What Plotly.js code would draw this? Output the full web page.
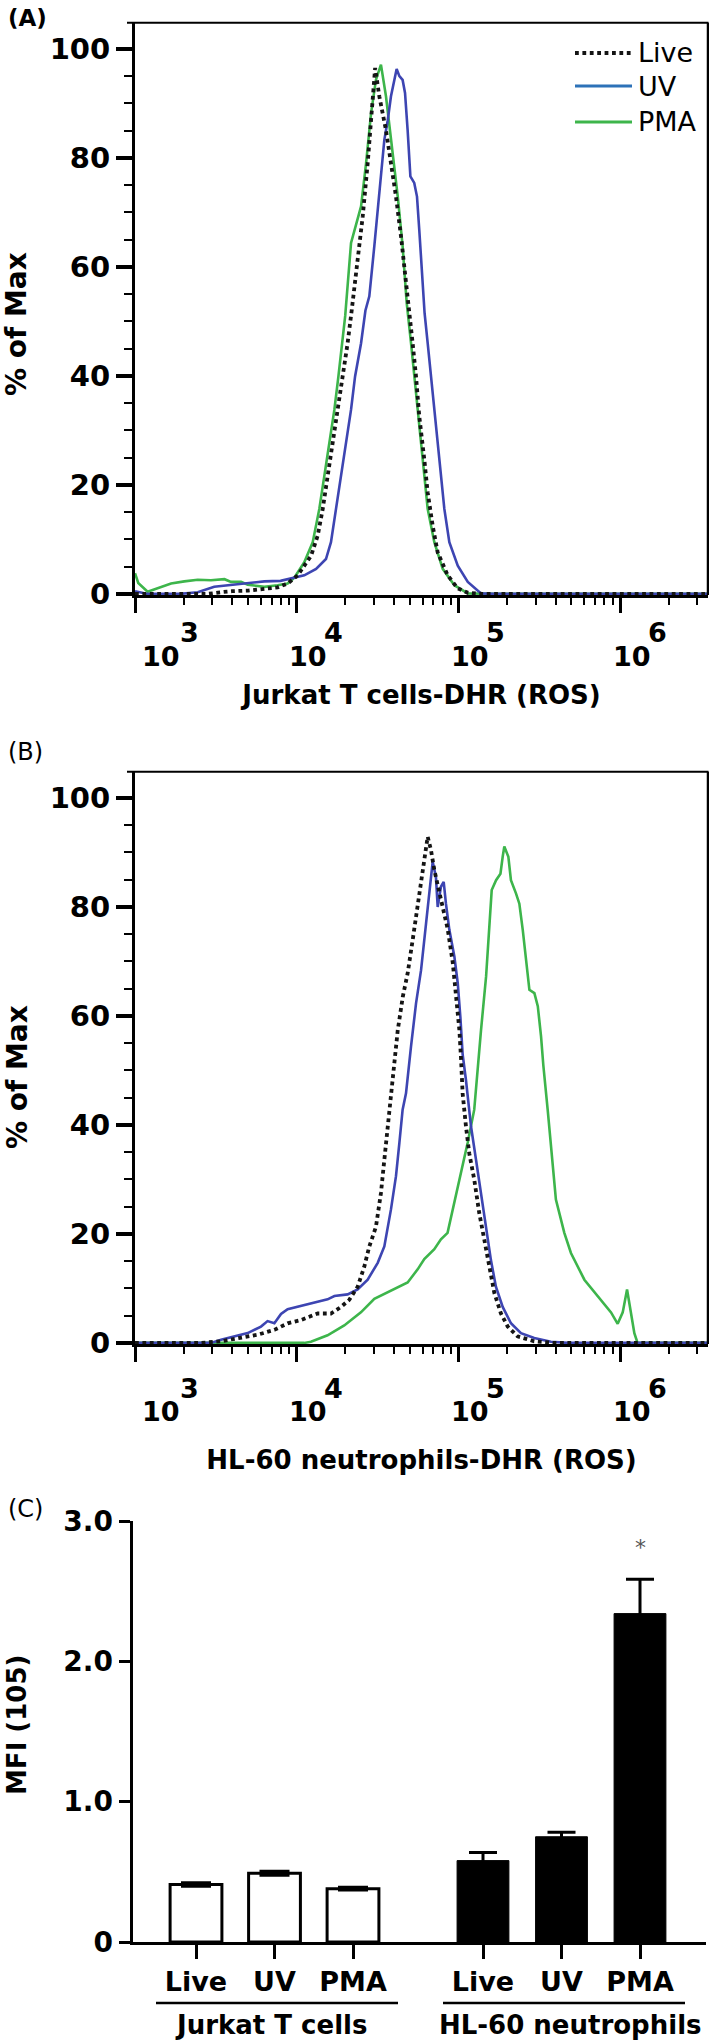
<!DOCTYPE html>
<html><head><meta charset="utf-8">
<script src="https://cdn.plot.ly/plotly-3.0.1.min.js"></script>
<style>html,body{margin:0;padding:0;background:#fff}#chart{width:709px;height:2042px}</style>
</head><body><div id="chart"></div>
<script>
// ---------- Panel A : Jurkat T cells - DHR (ROS) ----------
const aLiveX = [1000,2818,3388,3981,5012,6310,7621,8790,10140,12270,13490,14490,15560,16710,17740,19230,20650,21880,23280,25590,27480,28840,29850,30550,32430,34040,35650,38280,41110,44160,47420,50120,52120,54700,57280,61520,64570,69340,74470,85900,99080,114800,141300,3548000];
const aLiveY = [0,0,0.3,0.5,0.6,0.9,1.2,1.9,3.4,7.0,10.7,15.6,21.7,27.7,33.8,39.9,46.0,52.0,59.0,69.2,79.0,87.0,93.0,96.5,91.3,88.2,85.1,79.0,72.9,65.6,57.6,51.5,46.0,39.9,32.6,24.7,18.6,12.5,7.6,3.4,1.0,0.2,0,0];
const aUVX = [1000,1197,1905,2443,3090,3926,4977,6310,7943,9226,11140,13180,15170,16290,17500,18790,20180,21680,22960,25000,26610,28120,30200,32430,34830,36560,38280,41500,43150,45190,46770,48530,50470,53330,55460,57280,60120,61800,64570,67760,70960,74470,78160,81850,87900,99080,114300,138000,166000,3548000];
const aUVY = [0.5,0,0,0.3,1.3,1.6,1.9,2.3,2.4,2.8,3.4,4.6,6.4,9.5,15.6,21.7,27.7,33.8,39.9,46.0,52.0,54.6,63.8,72.9,83.3,86.9,91.3,96.3,95.0,94.3,91.9,85.1,76.6,75.4,72.9,66.8,57.6,51.5,46.0,39.9,33.8,27.7,21.7,15.6,9.5,5.2,2.2,0.1,0,0];
const aPMAX = [1000,1047,1197,1380,1671,2018,2443,2951,3573,3926,4529,4977,6310,7621,8790,9683,11140,12560,13800,14830,15920,17100,18110,19140,19950,21680,23280,25000,26850,28840,30900,33190,35650,38280,42170,45190,47860,50930,53330,55980,58750,61520,64570,70960,79980,94410,114300,158500,3548000];
const aPMAY = [3.8,2.0,0.4,1.0,1.9,2.3,2.6,2.5,2.7,2.2,2.2,1.7,1.3,1.6,1.9,3.0,5.8,9.5,15.6,21.7,27.7,33.8,39.9,46.0,51.0,64.4,68.0,71.1,79.0,88.2,94.3,97.1,91.3,83.3,72.9,63.8,53.5,46.0,39.9,33.8,27.7,21.7,15.6,9.5,4.6,1.6,0.1,0,0];

// ---------- Panel B : HL-60 neutrophils - DHR (ROS) ----------
const bLiveX = [1000,2559,3404,4519,5728,7278,8790,10620,13490,16290,18790,21130,23820,26180,28120,30900,33190,34830,36480,38280,40180,42170,45290,48530,52120,55980,61520,64570,67610,70960,77980,85900,92260,96610,101400,103800,106200,111400,116700,125300,134600,144500,155200,166700,183200,201800,232300,294400,391700,3548000];
const bLiveY = [0,0,0.3,0.9,1.5,2.4,3.6,4.2,5.4,5.4,6.6,7.9,10.3,14.0,17.7,21.3,27.5,33.6,39.7,45.8,51.3,57.4,63.5,67.8,73.9,80.0,89.2,92.9,90.5,86.8,81.4,75.9,69.8,63.5,57.4,52.2,45.8,39.7,34.8,30.0,23.8,19.0,14.0,9.2,5.4,3.0,1.2,0.3,0,0];
const bUVX = [1000,2951,3404,4111,4977,6012,6607,7278,7998,8790,10620,12850,15520,17100,20650,23820,27480,31700,34830,38280,41110,43150,45190,47420,49200,50930,54700,58750,63100,66070,69340,72610,74470,77980,81100,83750,87900,94410,99080,102800,106200,111400,119700,128500,138000,148300,158900,170600,187900,211300,243800,294400,373300,474300,3548000];
const bUVY = [0,0,0.6,1.2,1.8,3.0,4.0,3.6,5.3,6.2,6.8,7.4,8.0,8.6,8.9,9.8,11.6,14.7,17.7,24.5,30.6,36.7,42.8,45.8,51.0,54.4,62.3,68.4,77.0,83.1,88.3,85.5,80.0,83.7,84.6,80.6,75.8,70.9,66.0,59.9,53.0,48.2,39.7,33.6,27.5,21.3,15.2,10.3,6.6,3.6,1.8,0.9,0.2,0,0];
const bPMAX = [1000,11140,12250,15520,19680,24950,30200,36480,44160,48530,55980,61520,70960,77980,85700,94410,103800,114000,125300,131800,138000,148300,155600,160700,171000,182000,187900,192300,203700,211300,227000,238200,250000,262400,274800,295100,309700,324300,335000,356500,382800,400900,451900,496600,601200,726100,879000,966100,1038000,1104000,1167000,1225000,1282000,3548000];
const bPMAY = [0,0,0.2,1.4,3.2,5.6,8.1,9.3,10.5,11.1,13.5,15.4,17.2,19.0,20.2,25.7,31.2,36.7,42.8,51.0,57.4,67.2,75.8,83.1,84.9,86.1,89.2,91.1,89.2,84.9,82.5,80.6,75.8,69.7,64.8,64.2,61.8,56.3,51.0,42.8,33.6,26.3,20.2,16.5,11.6,8.6,5.6,3.5,5.6,9.8,5.6,1.8,0,0];

// ---------- Panel C : MFI ----------
const conditions = ['Live', 'UV', 'PMA'];
const groups = ['Jurkat T cells', 'HL-60 neutrophils'];
const jurkatMFI = [0.41, 0.49, 0.38];
const jurkatErr = [0.012, 0.015, 0.010];
const hl60MFI = [0.58, 0.75, 2.34];
const hl60Err = [0.057, 0.032, 0.245];

// ---------- axis labels ----------
const histTickVals = [1e3, 1e4, 1e5, 1e6];
const histTickExp = ['3', '4', '5', '6'];
const histYTicks = [0, 20, 40, 60, 80, 100];
const mfiTickVals = [0, 1, 2, 3];
const mfiTickText = ['0', '1.0', '2.0', '3.0'];
const seriesNames = ['Live', 'UV', 'PMA'];
const histYTitle = '% of Max';
const mfiYTitle = 'MFI (105)';

// ---------- styling / layout helpers ----------
const W = 709, H = 2042;
const px = v => v / W;
const py = v => 1 - v / H;
const C_LIVE = '#141414', C_UV = '#3d45b2', C_UV_LEG = '#2d72b8', C_PMA = '#3db54b';
const FB = {family: 'DejaVu Sans', weight: 700, color: '#000'};
const F = (size, bold) => Object.assign({}, bold ? FB : {family: 'DejaVu Sans', color: '#000'}, {size});
const groupOffset = 3.656;
const jX = conditions.map((c, i) => i);
const hX = conditions.map((c, i) => groupOffset + i);

const minorVals = [];
histTickVals.forEach(d => { for (let k = 2; k <= 9; k++) if (d * k < 3.5e6) minorVals.push(d * k); });

function histTraces(xa, ya, liveX, liveY, uvX, uvY, pmaX, pmaY) {
  return [
    {type: 'scatter', mode: 'lines', name: 'PMA', x: pmaX, y: pmaY, xaxis: xa, yaxis: ya,
     line: {color: C_PMA, width: 2.6}},
    {type: 'scatter', mode: 'lines', name: 'UV', x: uvX, y: uvY, xaxis: xa, yaxis: ya,
     line: {color: C_UV, width: 2.6}},
    {type: 'scatter', mode: 'lines', name: 'Live', x: liveX, y: liveY, xaxis: xa, yaxis: ya,
     line: {color: C_LIVE, width: 3.8, dash: '3.8px,3.6px'}}
  ];
}

const data = [
  ...histTraces('x', 'y', aLiveX, aLiveY, aUVX, aUVY, aPMAX, aPMAY),
  ...histTraces('x2', 'y2', bLiveX, bLiveY, bUVX, bUVY, bPMAX, bPMAY),
  {type: 'bar', name: groups[0], x: jX, y: jurkatMFI, xaxis: 'x3', yaxis: 'y3', width: 0.66,
   marker: {color: '#ffffff', line: {color: '#000', width: 3}},
   error_y: {type: 'data', array: jurkatErr, visible: true, color: '#000', thickness: 3, width: 15}},
  {type: 'bar', name: groups[1], x: hX, y: hl60MFI, xaxis: 'x3', yaxis: 'y3', width: 0.66,
   marker: {color: '#000000', line: {color: '#000', width: 1}},
   error_y: {type: 'data', array: hl60Err, visible: true, color: '#000', thickness: 3, width: 14}}
];

function histX(anchor, titleText, standoff) {
  return {
    anchor, type: 'log', range: [3, 3 + 573 / 161.7], domain: [px(135), px(708)],
    showline: true, linewidth: 3, linecolor: '#000', mirror: false,
    ticks: 'outside', ticklen: 15, tickwidth: 3, tickcolor: '#000',
    tickmode: 'array', tickvals: histTickVals, showticklabels: false,
    minor: {tickmode: 'array', tickvals: minorVals, ticks: 'outside', ticklen: 7, tickwidth: 2, tickcolor: '#000', showgrid: false},
    showgrid: false, zeroline: false, fixedrange: true,
    title: {text: titleText, font: F(26, true), standoff}
  };
}
function histY(anchor, domain) {
  return {
    anchor, domain, range: [-0.2, 104.8],
    showline: true, linewidth: 3, linecolor: '#000',
    ticks: 'outside', ticklen: 16, tickwidth: 3.5, tickcolor: '#000',
    tickmode: 'array', tickvals: histYTicks, tickfont: F(29, true),
    minor: {dtick: 5, tick0: 0, ticks: 'outside', ticklen: 8, tickwidth: 2, tickcolor: '#000', showgrid: false},
    showgrid: false, zeroline: false, fixedrange: true
  };
}

const annotations = [];
const shapes = [];
// panel letters
annotations.push({xref: 'paper', yref: 'paper', x: px(6), y: py(18), xanchor: 'left', yanchor: 'middle', showarrow: false, text: '(A)', font: F(23, true)});
annotations.push({xref: 'paper', yref: 'paper', x: px(6), y: py(752), xanchor: 'left', yanchor: 'middle', showarrow: false, text: '(B)', font: F(24, false)});
annotations.push({xref: 'paper', yref: 'paper', x: px(6), y: py(1509), xanchor: 'left', yanchor: 'middle', showarrow: false, text: '(C)', font: F(24, false)});

// vertical axis titles
[[324, histYTitle, 28], [1077, histYTitle, 28], [1725, mfiYTitle, 26]].forEach(([cy, t, s]) => {
  annotations.push({xref: 'paper', yref: 'paper', x: px(17), y: py(cy), xanchor: 'center', yanchor: 'middle',
    textangle: -90, showarrow: false, text: t, font: F(s, true)});
});

// log tick labels (10 with raised exponent)
[['x', 656.7, 633], ['x2', 1411.7, 1388]].forEach(([xr, yBase, yExp]) => {
  histTickVals.forEach((v, i) => {
    const first = i === 0;
    annotations.push({xref: xr, yref: 'paper', x: Math.log10(v), y: py(yBase), xshift: first ? 25.5 : 11.5,
      xanchor: 'center', yanchor: 'middle', showarrow: false, text: '10', font: F(27, true)});
    annotations.push({xref: xr, yref: 'paper', x: Math.log10(v), y: py(yExp), xshift: first ? 54 : 37,
      xanchor: 'center', yanchor: 'middle', showarrow: false, text: histTickExp[i], font: F(27, true)});
  });
});

// box borders (top & right) for histogram panels
[['y', 'x'], ['y2', 'x2']].forEach(([yr, xr]) => {
  shapes.push({type: 'line', xref: 'paper', yref: yr + ' domain', x0: px(127), x1: px(708.5), y0: 1, y1: 1, line: {color: '#000', width: 2}});
  shapes.push({type: 'line', xref: xr + ' domain', yref: yr + ' domain', x0: 1, x1: 1, y0: 0, y1: 1, line: {color: '#000', width: 2.5}});
});

// custom legend for panel A
const legY = [53, 86, 122];
const legColors = [C_LIVE, C_UV_LEG, C_PMA];
seriesNames.forEach((n, i) => {
  shapes.push({type: 'line', xref: 'paper', yref: 'paper', x0: px(575), x1: px(632), y0: py(legY[i]), y1: py(legY[i]),
    line: {color: legColors[i], width: i === 0 ? 3.8 : 3, dash: i === 0 ? '3.8px,3.6px' : 'solid'}});
  annotations.push({xref: 'paper', yref: 'paper', x: px(636), y: py(legY[i]), xanchor: 'left', yanchor: 'middle',
    showarrow: false, text: n, font: F(27, false)});
});

// panel C group underlines and labels
const groupSpans = [[156, 398, 271], [443, 685, 570]];
groups.forEach((g, i) => {
  shapes.push({type: 'line', xref: 'paper', yref: 'paper', x0: px(groupSpans[i][0]), x1: px(groupSpans[i][1]), y0: py(2003), y1: py(2003), line: {color: '#000', width: 2.5}});
  annotations.push({xref: 'paper', yref: 'paper', x: px(groupSpans[i][2]), y: py(2025), xanchor: 'center', yanchor: 'middle',
    showarrow: false, text: g, font: F(26, true)});
});
// significance asterisk above HL-60 PMA
annotations.push({xref: 'x3', yref: 'y3', x: hX[2], y: hl60MFI[2] + hl60Err[2], yshift: 32, xanchor: 'center', yanchor: 'middle',
  showarrow: false, text: '*', font: {family: 'DejaVu Sans', size: 22, color: '#555'}});

const layout = {
  width: W, height: H, margin: {l: 0, r: 0, t: 0, b: 0},
  paper_bgcolor: '#fff', plot_bgcolor: 'rgba(0,0,0,0)',
  showlegend: false, hovermode: false, barmode: 'overlay',
  xaxis: histX('y', 'Jurkat T cells-DHR (ROS)', 74),
  yaxis: histY('x', [py(595), py(22.7)]),
  xaxis2: histX('y2', 'HL-60 neutrophils-DHR (ROS)', 90),
  yaxis2: histY('x2', [py(1344), py(771.8)]),
  xaxis3: {anchor: 'y3', domain: [px(132.5), px(706)], range: [-(196 - 132.5) / 78.5, (706 - 196) / 78.5],
    showline: true, linewidth: 3, linecolor: '#000', ticks: 'outside', ticklen: 14, tickwidth: 3, tickcolor: '#000',
    tickmode: 'array', tickvals: jX.concat(hX), ticktext: conditions.concat(conditions), tickfont: F(27, true),
    showgrid: false, zeroline: false, fixedrange: true},
  yaxis3: {anchor: 'x3', domain: [py(1942), py(1521)], range: [0, 3],
    showline: true, linewidth: 3, linecolor: '#000', ticks: 'outside', ticklen: 11, tickwidth: 3, tickcolor: '#000',
    tickmode: 'array', tickvals: mfiTickVals, ticktext: mfiTickText, tickfont: F(28, true),
    showgrid: false, zeroline: false, fixedrange: true},
  annotations, shapes
};

Plotly.newPlot('chart', data, layout, {staticPlot: true, displayModeBar: false});
</script></body></html>
